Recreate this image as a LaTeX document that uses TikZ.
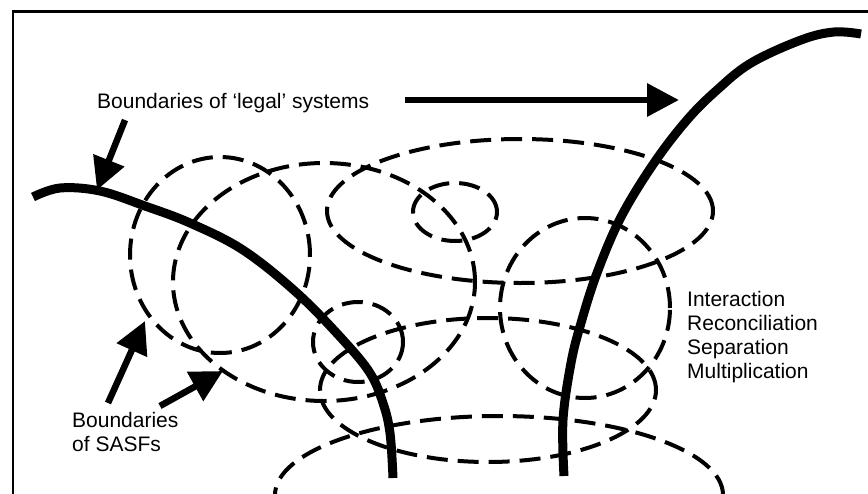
\documentclass[tikz,border=0pt]{standalone}
\usepackage{fontspec}
\setmainfont{Liberation Sans}
\usetikzlibrary{arrows.meta}
\begin{document}
\begin{tikzpicture}[x=1pt,y=-1pt,
  sasf/.style={draw, line width=4pt, dash pattern=on 21pt off 10pt},
  legal/.style={draw, line width=9pt},
  pointer/.style={draw, line width=6.5pt, -{Triangle[length=32pt,width=32pt]}},
  lbl/.style={font=\fontsize{21}{24}\selectfont, inner sep=0pt, align=left}]
\useasboundingbox (0,0) rectangle (868,493);
\clip (0,0) rectangle (868,493);
% frame
\draw[line width=2.2pt] (13,520) -- (13,11.5) -- (890,11.5);
% SASF boundaries (dashed)
\draw[sasf] (220,255) ellipse [x radius=90pt, y radius=98pt];
\draw[sasf] (324,282) ellipse [x radius=151pt, y radius=119pt];
\draw[sasf] (520,211) ellipse [x radius=193pt, y radius=72pt];
\draw[sasf] (455,212) ellipse [x radius=42pt, y radius=29pt];
\draw[sasf] (585,308) ellipse [x radius=85pt, y radius=90pt];
\draw[sasf] (488,390) ellipse [x radius=168pt, y radius=72pt];
\draw[sasf] (499,495) ellipse [x radius=224pt, y radius=79pt];
\draw[sasf] (358,342) ellipse [x radius=45pt, y radius=40pt];
% legal system boundaries (thick)
\draw[legal] plot[smooth, tension=0.6] coordinates {(33,197) (60,188) (100,191) (145,206) (190,223) (243,250) (297,293) (343,340) (370,373) (383,403) (390,433) (393,478)};
\draw[legal] plot[smooth, tension=0.6] coordinates {(564,476) (563,420) (571,363) (581,323) (597,273) (621,217) (654,163) (687,120) (717,90) (751,63) (801,40) (834,32) (861,34)};
% labels (base anchor of a multi-line node is its last line)
\node[lbl, anchor=base west] (legaltxt) at (97,108) {Boundaries of ‘legal’ systems};
\node[lbl, anchor=base west] (sasftxt) at (72,451) {Boundaries\\of SASFs};
\node[lbl, anchor=base west] (modes) at (687,378) {Interaction\\Reconciliation\\Separation\\Multiplication};
% arrows
\coordinate (a1s) at (405,100); \coordinate (a1e) at (679,100);
\coordinate (a2s) at (125,120); \coordinate (a2e) at (97,190);
\coordinate (a3s) at (108,403); \coordinate (a3e) at (145,321);
\coordinate (a4s) at (160,406); \coordinate (a4e) at (223,371);
\draw[pointer] (a1s) -- (a1e);
\draw[pointer] (a2s) -- (a2e);
\draw[pointer] (a3s) -- (a3e);
\draw[pointer] (a4s) -- (a4e);
\end{tikzpicture}
\end{document}
